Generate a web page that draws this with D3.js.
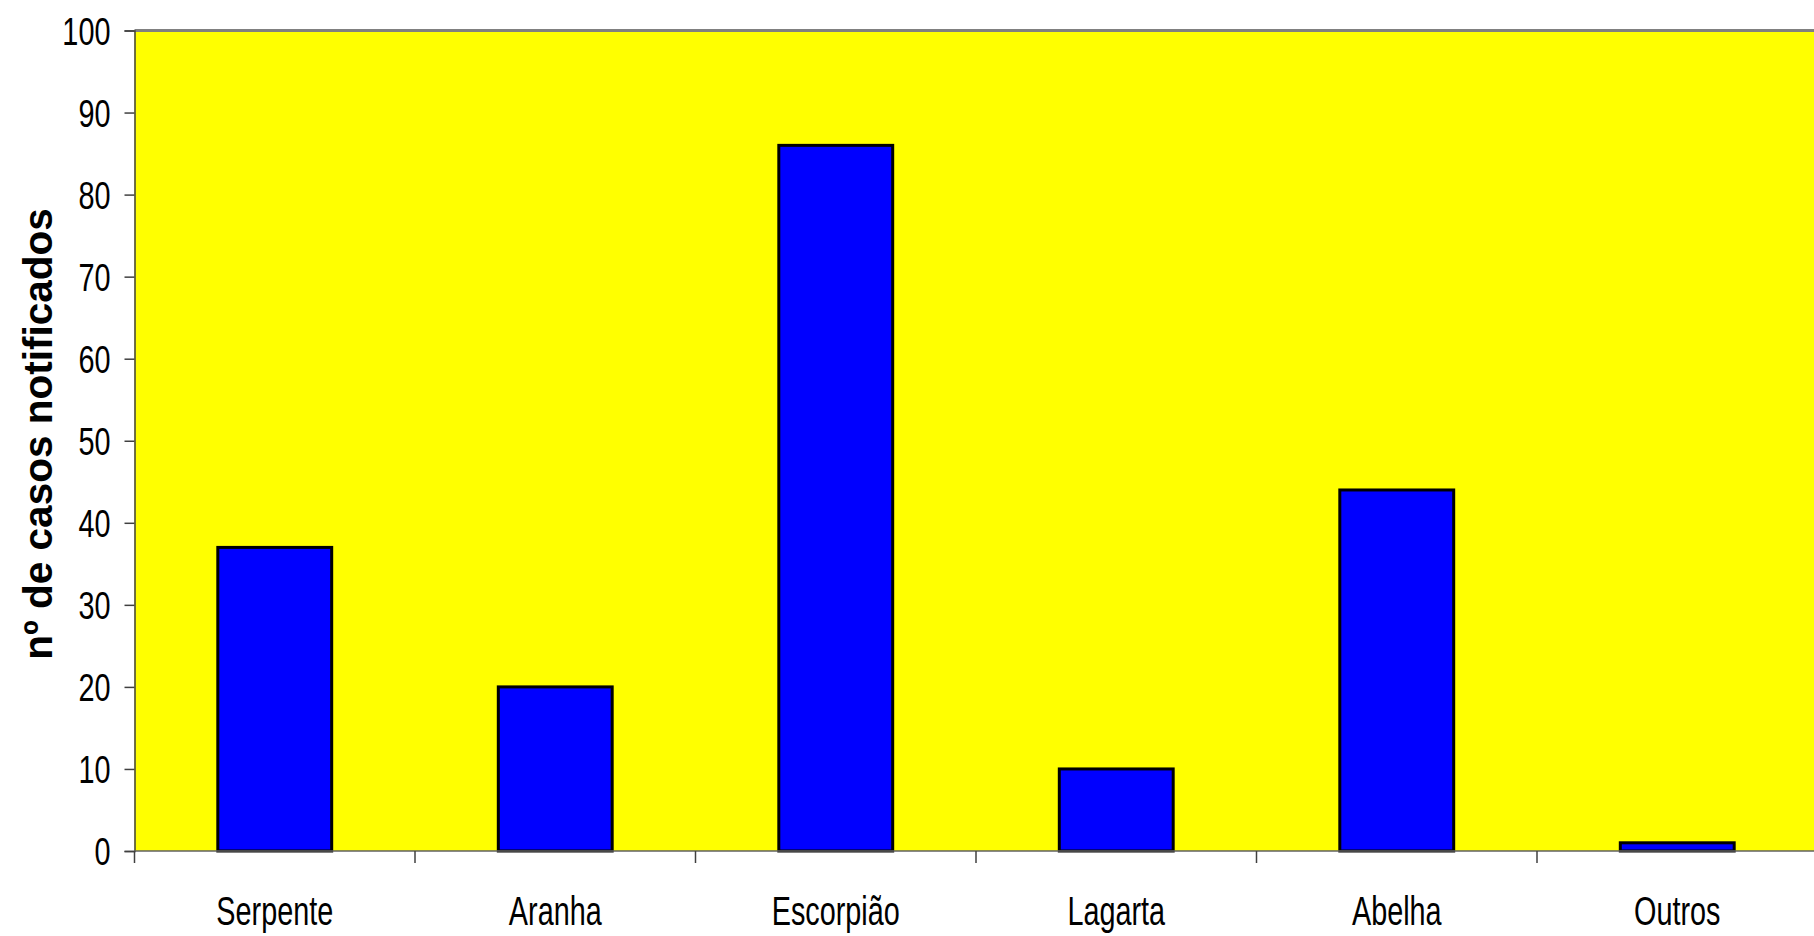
<!DOCTYPE html>
<html>
<head>
<meta charset="utf-8">
<script src="https://cdn.jsdelivr.net/npm/d3@7"></script>
<style>
  html, body { margin: 0; padding: 0; background: #ffffff; overflow: hidden; }
  svg { display: block; }
  text { font-family: "Liberation Sans", Arial, sans-serif; fill: #000; }
</style>
</head>
<body>
<script>
const categories = ["Serpente", "Aranha", "Escorpião", "Lagarta", "Abelha", "Outros"];
const values = [37, 20, 86, 10, 44, 1];
const yTicks = [0, 10, 20, 30, 40, 50, 60, 70, 80, 90, 100];
const yTitle = "nº de casos notificados";

(function () {
const W = 1814, H = 936;
const pL = 134.5, pT = 30.5, pB = 851, pR = 134.5 + 6 * 280.5;

const svg = d3.select("body").append("svg").attr("width", W).attr("height", H);

const x = d3.scaleBand().domain(categories).range([pL, pR])
  .paddingInner(0.594).paddingOuter(0.297);
const y = d3.scaleLinear().domain([0, 100]).range([pB, pT]);

// plot area
svg.append("rect").attr("x", pL).attr("y", y(100)).attr("width", pR - pL)
  .attr("height", y(0) - y(100)).attr("fill", "#ffff00");
// top border
svg.append("line").attr("x1", pL).attr("x2", pR).attr("y1", y(100)).attr("y2", y(100))
  .attr("stroke", "#808080").attr("stroke-width", 3);

// bars
svg.append("g").selectAll("rect").data(values).join("rect")
  .attr("x", (d, i) => x(categories[i]))
  .attr("y", d => y(d))
  .attr("width", x.bandwidth())
  .attr("height", d => y(0) - y(d))
  .attr("fill", "#0000ff")
  .attr("stroke", "#000")
  .attr("stroke-width", 3);

// y axis
const yAxis = d3.axisLeft(y).tickValues(yTicks).tickSize(10).tickPadding(14).tickFormat(d3.format("d"));
const gy = svg.append("g").attr("transform", `translate(${pL},0)`).call(yAxis);
gy.select(".domain").attr("stroke", "#404040").attr("stroke-width", 1.5);
gy.selectAll(".tick line").attr("stroke", "#404040").attr("stroke-width", 1.5);
gy.selectAll(".tick text")
  .attr("font-family", "'Liberation Sans', Arial, sans-serif")
  .attr("font-size", 39)
  .attr("fill", "#000")
  .attr("dy", null)
  .attr("dominant-baseline", "central")
  .each(function() {
    const t = d3.select(this);
    const xx = +t.attr("x");
    t.attr("transform", `translate(${xx},0) scale(0.74,1) translate(${-xx},0)`);
  });

// x axis baseline
svg.append("line").attr("x1", pL).attr("x2", pR).attr("y1", pB).attr("y2", pB)
  .attr("stroke", "#606060").attr("stroke-width", 1.5);
// category tick marks at band boundaries
const bounds = d3.range(categories.length + 1).map(i => pL + i * x.step());
svg.append("g").selectAll("line").data(bounds).join("line")
  .attr("x1", d => d).attr("x2", d => d).attr("y1", pB).attr("y2", pB + 12)
  .attr("stroke", "#404040").attr("stroke-width", 1.5);
// category labels
svg.append("g").selectAll("text").data(categories).join("text")
  .attr("transform", d => `translate(${x(d) + x.bandwidth() / 2},925) scale(0.72,1)`)
  .attr("text-anchor", "middle")
  .attr("font-size", 40)
  .text(d => d);

// y title
svg.append("text")
  .attr("transform", `translate(52,434) rotate(-90)`)
  .attr("text-anchor", "middle")
  .attr("font-size", 40.5)
  .attr("font-weight", "bold")
  .text(yTitle);
})();
</script>
</body>
</html>
